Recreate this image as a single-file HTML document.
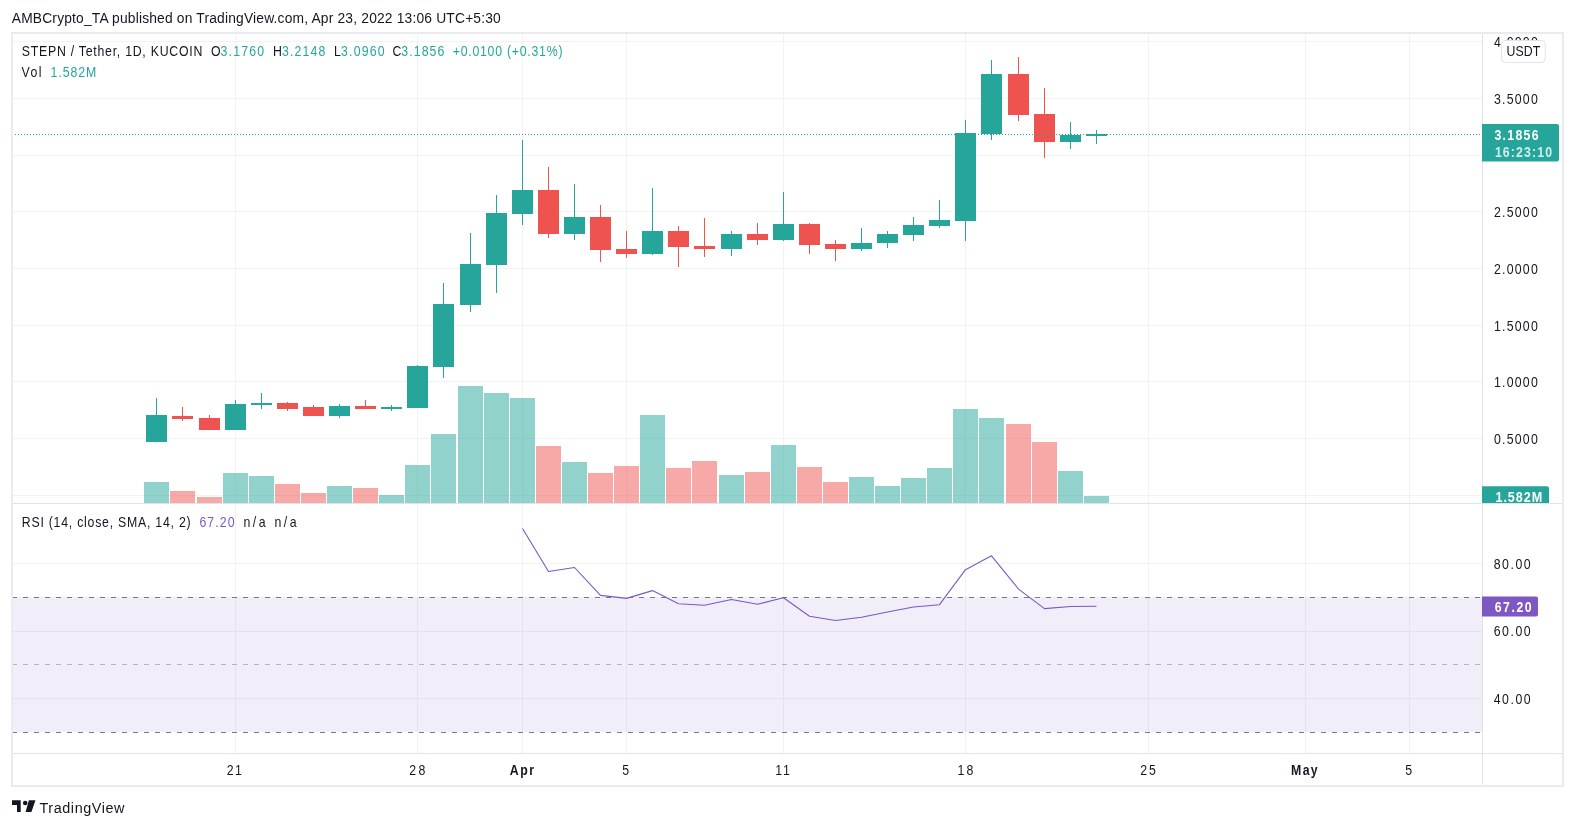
<!DOCTYPE html>
<html><head><meta charset="utf-8"><style>
html,body{margin:0;padding:0;background:#fff;width:1575px;height:828px;overflow:hidden}
</style></head><body>
<div style="will-change:transform;width:1575px;height:828px">
<svg width="1575" height="828" viewBox="0 0 1575 828" style="display:block" shape-rendering="crispEdges">
<rect x="0" y="0" width="1575" height="828" fill="#ffffff"/>
<text transform="translate(11.80,23) scale(1.0,1)" x="0" y="0" font-family="Liberation Sans, sans-serif" font-size="13.8" font-weight="400" fill="#131722" textLength="489.00" lengthAdjust="spacing" shape-rendering="auto" >AMBCrypto_TA published on TradingView.com, Apr 23, 2022 13:06 UTC+5:30</text>
<rect x="12" y="33" width="1551" height="753" fill="none" stroke="#EAEBEF" stroke-width="2"/>
<rect x="235" y="34" width="1" height="719" fill="#F1F2F2"/>
<rect x="417" y="34" width="1" height="719" fill="#F1F2F2"/>
<rect x="522" y="34" width="1" height="719" fill="#F1F2F2"/>
<rect x="626" y="34" width="1" height="719" fill="#F1F2F2"/>
<rect x="783" y="34" width="1" height="719" fill="#F1F2F2"/>
<rect x="965" y="34" width="1" height="719" fill="#F1F2F2"/>
<rect x="1148" y="34" width="1" height="719" fill="#F1F2F2"/>
<rect x="1305" y="34" width="1" height="719" fill="#F1F2F2"/>
<rect x="1409" y="34" width="1" height="719" fill="#F1F2F2"/>
<rect x="13" y="41" width="1469" height="1" fill="#F1F2F2"/>
<rect x="13" y="98" width="1469" height="1" fill="#F1F2F2"/>
<rect x="13" y="155" width="1469" height="1" fill="#F1F2F2"/>
<rect x="13" y="211" width="1469" height="1" fill="#F1F2F2"/>
<rect x="13" y="268" width="1469" height="1" fill="#F1F2F2"/>
<rect x="13" y="325" width="1469" height="1" fill="#F1F2F2"/>
<rect x="13" y="381" width="1469" height="1" fill="#F1F2F2"/>
<rect x="13" y="438" width="1469" height="1" fill="#F1F2F2"/>
<rect x="13" y="495" width="1469" height="1" fill="#F1F2F2"/>
<rect x="13" y="563" width="1469" height="1" fill="#F1F2F2"/>
<rect x="13" y="631" width="1469" height="1" fill="#F1F2F2"/>
<rect x="13" y="698" width="1469" height="1" fill="#F1F2F2"/>
<rect x="13" y="597" width="1469" height="135" fill="#7E57C2" fill-opacity="0.1"/>
<line x1="13" y1="597.5" x2="1482" y2="597.5" stroke="#787B86" stroke-width="1" stroke-dasharray="5 6" stroke-dashoffset="1"/>
<line x1="13" y1="664.5" x2="1482" y2="664.5" stroke="#B6B2C6" stroke-width="1" stroke-dasharray="5 6" stroke-dashoffset="1"/>
<line x1="13" y1="732.5" x2="1482" y2="732.5" stroke="#787B86" stroke-width="1" stroke-dasharray="5 6" stroke-dashoffset="1"/>
<rect x="144.0" y="482" width="25" height="21" fill="#26A69A" fill-opacity="0.5"/>
<rect x="170.0" y="491" width="25" height="12" fill="#EF5350" fill-opacity="0.5"/>
<rect x="197.0" y="497" width="25" height="6" fill="#EF5350" fill-opacity="0.5"/>
<rect x="223.0" y="473" width="25" height="30" fill="#26A69A" fill-opacity="0.5"/>
<rect x="249.0" y="476" width="25" height="27" fill="#26A69A" fill-opacity="0.5"/>
<rect x="275.0" y="484" width="25" height="19" fill="#EF5350" fill-opacity="0.5"/>
<rect x="301.0" y="493" width="25" height="10" fill="#EF5350" fill-opacity="0.5"/>
<rect x="327.0" y="486" width="25" height="17" fill="#26A69A" fill-opacity="0.5"/>
<rect x="353.0" y="488" width="25" height="15" fill="#EF5350" fill-opacity="0.5"/>
<rect x="379.0" y="495" width="25" height="8" fill="#26A69A" fill-opacity="0.5"/>
<rect x="405.0" y="465" width="25" height="38" fill="#26A69A" fill-opacity="0.5"/>
<rect x="431.0" y="434" width="25" height="69" fill="#26A69A" fill-opacity="0.5"/>
<rect x="458.0" y="386" width="25" height="117" fill="#26A69A" fill-opacity="0.5"/>
<rect x="484.0" y="393" width="25" height="110" fill="#26A69A" fill-opacity="0.5"/>
<rect x="510.0" y="398" width="25" height="105" fill="#26A69A" fill-opacity="0.5"/>
<rect x="536.0" y="446" width="25" height="57" fill="#EF5350" fill-opacity="0.5"/>
<rect x="562.0" y="462" width="25" height="41" fill="#26A69A" fill-opacity="0.5"/>
<rect x="588.0" y="473" width="25" height="30" fill="#EF5350" fill-opacity="0.5"/>
<rect x="614.0" y="466" width="25" height="37" fill="#EF5350" fill-opacity="0.5"/>
<rect x="640.0" y="415" width="25" height="88" fill="#26A69A" fill-opacity="0.5"/>
<rect x="666.0" y="468" width="25" height="35" fill="#EF5350" fill-opacity="0.5"/>
<rect x="692.0" y="461" width="25" height="42" fill="#EF5350" fill-opacity="0.5"/>
<rect x="719.0" y="475" width="25" height="28" fill="#26A69A" fill-opacity="0.5"/>
<rect x="745.0" y="472" width="25" height="31" fill="#EF5350" fill-opacity="0.5"/>
<rect x="771.0" y="445" width="25" height="58" fill="#26A69A" fill-opacity="0.5"/>
<rect x="797.0" y="467" width="25" height="36" fill="#EF5350" fill-opacity="0.5"/>
<rect x="823.0" y="482" width="25" height="21" fill="#EF5350" fill-opacity="0.5"/>
<rect x="849.0" y="477" width="25" height="26" fill="#26A69A" fill-opacity="0.5"/>
<rect x="875.0" y="486" width="25" height="17" fill="#26A69A" fill-opacity="0.5"/>
<rect x="901.0" y="478" width="25" height="25" fill="#26A69A" fill-opacity="0.5"/>
<rect x="927.0" y="468" width="25" height="35" fill="#26A69A" fill-opacity="0.5"/>
<rect x="953.0" y="409" width="25" height="94" fill="#26A69A" fill-opacity="0.5"/>
<rect x="979.0" y="418" width="25" height="85" fill="#26A69A" fill-opacity="0.5"/>
<rect x="1006.0" y="424" width="25" height="79" fill="#EF5350" fill-opacity="0.5"/>
<rect x="1032.0" y="442" width="25" height="61" fill="#EF5350" fill-opacity="0.5"/>
<rect x="1058.0" y="471" width="25" height="32" fill="#26A69A" fill-opacity="0.5"/>
<rect x="1084.0" y="496" width="25" height="7" fill="#26A69A" fill-opacity="0.5"/>
<rect x="156.0" y="398" width="1" height="44" fill="#26A69A"/>
<rect x="146.0" y="415" width="21" height="27" fill="#26A69A"/>
<rect x="182.0" y="407" width="1" height="14" fill="#EF5350"/>
<rect x="172.0" y="416" width="21" height="3" fill="#EF5350"/>
<rect x="209.0" y="415" width="1" height="15" fill="#EF5350"/>
<rect x="199.0" y="418" width="21" height="12" fill="#EF5350"/>
<rect x="235.0" y="400" width="1" height="30" fill="#26A69A"/>
<rect x="225.0" y="404" width="21" height="26" fill="#26A69A"/>
<rect x="261.0" y="393" width="1" height="16" fill="#26A69A"/>
<rect x="251.0" y="403" width="21" height="2" fill="#26A69A"/>
<rect x="287.0" y="402" width="1" height="9" fill="#EF5350"/>
<rect x="277.0" y="403" width="21" height="6" fill="#EF5350"/>
<rect x="313.0" y="405" width="1" height="11" fill="#EF5350"/>
<rect x="303.0" y="407" width="21" height="9" fill="#EF5350"/>
<rect x="339.0" y="404" width="1" height="14" fill="#26A69A"/>
<rect x="329.0" y="406" width="21" height="10" fill="#26A69A"/>
<rect x="365.0" y="400" width="1" height="9" fill="#EF5350"/>
<rect x="355.0" y="406" width="21" height="3" fill="#EF5350"/>
<rect x="391.0" y="405" width="1" height="6" fill="#26A69A"/>
<rect x="381.0" y="407" width="21" height="2" fill="#26A69A"/>
<rect x="417.0" y="365" width="1" height="43" fill="#26A69A"/>
<rect x="407.0" y="366" width="21" height="42" fill="#26A69A"/>
<rect x="443.0" y="283" width="1" height="95" fill="#26A69A"/>
<rect x="433.0" y="304" width="21" height="63" fill="#26A69A"/>
<rect x="470.0" y="233" width="1" height="79" fill="#26A69A"/>
<rect x="460.0" y="264" width="21" height="41" fill="#26A69A"/>
<rect x="496.0" y="195" width="1" height="98" fill="#26A69A"/>
<rect x="486.0" y="213" width="21" height="52" fill="#26A69A"/>
<rect x="522.0" y="140" width="1" height="85" fill="#26A69A"/>
<rect x="512.0" y="190" width="21" height="24" fill="#26A69A"/>
<rect x="548.0" y="167" width="1" height="71" fill="#EF5350"/>
<rect x="538.0" y="190" width="21" height="44" fill="#EF5350"/>
<rect x="574.0" y="184" width="1" height="56" fill="#26A69A"/>
<rect x="564.0" y="217" width="21" height="17" fill="#26A69A"/>
<rect x="600.0" y="205" width="1" height="57" fill="#EF5350"/>
<rect x="590.0" y="217" width="21" height="33" fill="#EF5350"/>
<rect x="626.0" y="231" width="1" height="27" fill="#EF5350"/>
<rect x="616.0" y="249" width="21" height="5" fill="#EF5350"/>
<rect x="652.0" y="188" width="1" height="67" fill="#26A69A"/>
<rect x="642.0" y="231" width="21" height="23" fill="#26A69A"/>
<rect x="678.0" y="226" width="1" height="41" fill="#EF5350"/>
<rect x="668.0" y="231" width="21" height="16" fill="#EF5350"/>
<rect x="704.0" y="218" width="1" height="39" fill="#EF5350"/>
<rect x="694.0" y="246" width="21" height="3" fill="#EF5350"/>
<rect x="731.0" y="231" width="1" height="25" fill="#26A69A"/>
<rect x="721.0" y="234" width="21" height="15" fill="#26A69A"/>
<rect x="757.0" y="223" width="1" height="22" fill="#EF5350"/>
<rect x="747.0" y="234" width="21" height="6" fill="#EF5350"/>
<rect x="783.0" y="192" width="1" height="49" fill="#26A69A"/>
<rect x="773.0" y="224" width="21" height="16" fill="#26A69A"/>
<rect x="809.0" y="223" width="1" height="31" fill="#EF5350"/>
<rect x="799.0" y="224" width="21" height="21" fill="#EF5350"/>
<rect x="835.0" y="240" width="1" height="21" fill="#EF5350"/>
<rect x="825.0" y="244" width="21" height="5" fill="#EF5350"/>
<rect x="861.0" y="228" width="1" height="23" fill="#26A69A"/>
<rect x="851.0" y="243" width="21" height="6" fill="#26A69A"/>
<rect x="887.0" y="231" width="1" height="17" fill="#26A69A"/>
<rect x="877.0" y="234" width="21" height="9" fill="#26A69A"/>
<rect x="913.0" y="217" width="1" height="24" fill="#26A69A"/>
<rect x="903.0" y="225" width="21" height="10" fill="#26A69A"/>
<rect x="939.0" y="200" width="1" height="28" fill="#26A69A"/>
<rect x="929.0" y="220" width="21" height="6" fill="#26A69A"/>
<rect x="965.0" y="120" width="1" height="121" fill="#26A69A"/>
<rect x="955.0" y="133" width="21" height="88" fill="#26A69A"/>
<rect x="991.0" y="60" width="1" height="80" fill="#26A69A"/>
<rect x="981.0" y="74" width="21" height="60" fill="#26A69A"/>
<rect x="1018.0" y="57" width="1" height="64" fill="#EF5350"/>
<rect x="1008.0" y="74" width="21" height="41" fill="#EF5350"/>
<rect x="1044.0" y="88" width="1" height="70" fill="#EF5350"/>
<rect x="1034.0" y="114" width="21" height="28" fill="#EF5350"/>
<rect x="1070.0" y="122" width="1" height="27" fill="#26A69A"/>
<rect x="1060.0" y="135" width="21" height="7" fill="#26A69A"/>
<rect x="1096.0" y="130" width="1" height="14" fill="#26A69A"/>
<rect x="1086.0" y="134" width="21" height="2" fill="#26A69A"/>
<line x1="13" y1="134.5" x2="1482" y2="134.5" stroke="#26A69A" stroke-width="1" stroke-dasharray="1 2" stroke-dashoffset="1"/>
<polyline points="522.5,528.5 548.5,571.5 574.5,567.5 600.5,595.4 626.5,598.4 652.5,590.6 678.5,603.8 704.5,605.3 731.5,599.5 757.5,604.3 783.5,597.8 809.5,616.3 835.5,620.5 861.5,617.3 887.5,612 913.5,607 939.5,604.7 965.5,569.7 991.5,555.8 1018.5,589.1 1044.5,608.6 1070.5,606.5 1096.5,606.3" fill="none" stroke="#7E57C2" stroke-width="1.1" shape-rendering="auto" stroke-linejoin="round"/>
<rect x="13" y="503" width="1549" height="1" fill="#E0E3EB"/>
<rect x="13" y="753" width="1549" height="1" fill="#E0E3EB"/>
<rect x="1482" y="34" width="1" height="751" fill="#E0E3EB"/>
<text transform="translate(21.80,56.2) scale(0.88,1)" x="0" y="0" font-family="Liberation Sans, sans-serif" font-size="14" font-weight="400" fill="#131722" textLength="205.11" lengthAdjust="spacing" shape-rendering="auto" >STEPN / Tether, 1D, KUCOIN</text>
<text transform="translate(210.90,56.2) scale(0.88,1)" x="0" y="0" font-family="Liberation Sans, sans-serif" font-size="14" font-weight="400" fill="#131722" textLength="10.80" lengthAdjust="spacing" shape-rendering="auto" >O</text>
<text transform="translate(220.40,56.2) scale(0.88,1)" x="0" y="0" font-family="Liberation Sans, sans-serif" font-size="14" font-weight="400" fill="#26A69A" textLength="49.77" lengthAdjust="spacing" shape-rendering="auto" >3.1760</text>
<text transform="translate(272.90,56.2) scale(0.88,1)" x="0" y="0" font-family="Liberation Sans, sans-serif" font-size="14" font-weight="400" fill="#131722" textLength="10.23" lengthAdjust="spacing" shape-rendering="auto" >H</text>
<text transform="translate(282.00,56.2) scale(0.88,1)" x="0" y="0" font-family="Liberation Sans, sans-serif" font-size="14" font-weight="400" fill="#26A69A" textLength="49.32" lengthAdjust="spacing" shape-rendering="auto" >3.2148</text>
<text transform="translate(334.10,56.2) scale(0.88,1)" x="0" y="0" font-family="Liberation Sans, sans-serif" font-size="14" font-weight="400" fill="#131722" textLength="8.52" lengthAdjust="spacing" shape-rendering="auto" >L</text>
<text transform="translate(341.10,56.2) scale(0.88,1)" x="0" y="0" font-family="Liberation Sans, sans-serif" font-size="14" font-weight="400" fill="#26A69A" textLength="49.43" lengthAdjust="spacing" shape-rendering="auto" >3.0960</text>
<text transform="translate(392.40,56.2) scale(0.88,1)" x="0" y="0" font-family="Liberation Sans, sans-serif" font-size="14" font-weight="400" fill="#131722" textLength="9.89" lengthAdjust="spacing" shape-rendering="auto" >C</text>
<text transform="translate(401.30,56.2) scale(0.88,1)" x="0" y="0" font-family="Liberation Sans, sans-serif" font-size="14" font-weight="400" fill="#26A69A" textLength="48.98" lengthAdjust="spacing" shape-rendering="auto" >3.1856</text>
<text transform="translate(452.70,56.2) scale(0.88,1)" x="0" y="0" font-family="Liberation Sans, sans-serif" font-size="14" font-weight="400" fill="#26A69A" textLength="124.77" lengthAdjust="spacing" shape-rendering="auto" >+0.0100 (+0.31%)</text>
<text transform="translate(21.40,76.7) scale(0.88,1)" x="0" y="0" font-family="Liberation Sans, sans-serif" font-size="14" font-weight="400" fill="#131722" textLength="22.95" lengthAdjust="spacing" shape-rendering="auto" >Vol</text>
<text transform="translate(50.60,76.7) scale(0.88,1)" x="0" y="0" font-family="Liberation Sans, sans-serif" font-size="14" font-weight="400" fill="#26A69A" textLength="51.82" lengthAdjust="spacing" shape-rendering="auto" >1.582M</text>
<text transform="translate(21.80,527.1) scale(0.88,1)" x="0" y="0" font-family="Liberation Sans, sans-serif" font-size="14" font-weight="400" fill="#131722" textLength="191.82" lengthAdjust="spacing" shape-rendering="auto" >RSI (14, close, SMA, 14, 2)</text>
<text transform="translate(199.40,527.1) scale(0.88,1)" x="0" y="0" font-family="Liberation Sans, sans-serif" font-size="14" font-weight="400" fill="#7E57C2" textLength="40.00" lengthAdjust="spacing" shape-rendering="auto" >67.20</text>
<text transform="translate(243.40,527.1) scale(0.88,1)" x="0" y="0" font-family="Liberation Sans, sans-serif" font-size="14" font-weight="400" fill="#131722" textLength="25.23" lengthAdjust="spacing" shape-rendering="auto" >n/a</text>
<text transform="translate(274.40,527.1) scale(0.88,1)" x="0" y="0" font-family="Liberation Sans, sans-serif" font-size="14" font-weight="400" fill="#131722" textLength="25.23" lengthAdjust="spacing" shape-rendering="auto" >n/a</text>
<text transform="translate(1493.90,47) scale(0.88,1)" x="0" y="0" font-family="Liberation Sans, sans-serif" font-size="14" font-weight="400" fill="#131722" textLength="49.89" lengthAdjust="spacing" shape-rendering="auto" >4.0000</text>
<text transform="translate(1493.90,104) scale(0.88,1)" x="0" y="0" font-family="Liberation Sans, sans-serif" font-size="14" font-weight="400" fill="#131722" textLength="49.89" lengthAdjust="spacing" shape-rendering="auto" >3.5000</text>
<text transform="translate(1493.90,217) scale(0.88,1)" x="0" y="0" font-family="Liberation Sans, sans-serif" font-size="14" font-weight="400" fill="#131722" textLength="49.89" lengthAdjust="spacing" shape-rendering="auto" >2.5000</text>
<text transform="translate(1493.90,273.5) scale(0.88,1)" x="0" y="0" font-family="Liberation Sans, sans-serif" font-size="14" font-weight="400" fill="#131722" textLength="49.89" lengthAdjust="spacing" shape-rendering="auto" >2.0000</text>
<text transform="translate(1493.90,330.5) scale(0.88,1)" x="0" y="0" font-family="Liberation Sans, sans-serif" font-size="14" font-weight="400" fill="#131722" textLength="49.89" lengthAdjust="spacing" shape-rendering="auto" >1.5000</text>
<text transform="translate(1493.90,387) scale(0.88,1)" x="0" y="0" font-family="Liberation Sans, sans-serif" font-size="14" font-weight="400" fill="#131722" textLength="49.89" lengthAdjust="spacing" shape-rendering="auto" >1.0000</text>
<text transform="translate(1493.90,443.5) scale(0.88,1)" x="0" y="0" font-family="Liberation Sans, sans-serif" font-size="14" font-weight="400" fill="#131722" textLength="49.89" lengthAdjust="spacing" shape-rendering="auto" >0.5000</text>
<rect x="1501.5" y="40.5" width="43.8" height="22" rx="4" ry="4" fill="#ffffff" stroke="#E0E3EB" stroke-width="1" shape-rendering="auto"/>
<text transform="translate(1506.40,56) scale(0.88,1)" x="0" y="0" font-family="Liberation Sans, sans-serif" font-size="14" font-weight="400" fill="#131722" textLength="38.52" lengthAdjust="spacing" shape-rendering="auto" >USDT</text>
<path d="M1482 124 H1557 Q1559 124 1559 126 V159.5 Q1559 161.5 1557 161.5 H1482 Z" fill="#26A69A" shape-rendering="auto"/>
<text transform="translate(1494.40,140) scale(0.88,1)" x="0" y="0" font-family="Liberation Sans, sans-serif" font-size="14" font-weight="700" fill="#ffffff" textLength="50.23" lengthAdjust="spacing" shape-rendering="auto" >3.1856</text>
<text transform="translate(1494.90,157) scale(0.88,1)" x="0" y="0" font-family="Liberation Sans, sans-serif" font-size="14" font-weight="700" fill="#D0ECE9" textLength="65.00" lengthAdjust="spacing" shape-rendering="auto" >16:23:10</text>
<svg x="1482" y="486" width="67" height="17"><path d="M0 0.2 H65 Q67 0.2 67 2.2 V20 H0 Z" fill="#26A69A" shape-rendering="auto"/>
<text transform="translate(13.40,15.8) scale(0.9,1)" x="0" y="0" font-family="Liberation Sans, sans-serif" font-size="14" font-weight="700" fill="#ffffff" textLength="52.11" lengthAdjust="spacing" shape-rendering="auto" >1.582M</text>
</svg>
<text transform="translate(1493.70,568.9) scale(0.88,1)" x="0" y="0" font-family="Liberation Sans, sans-serif" font-size="14" font-weight="400" fill="#131722" textLength="41.93" lengthAdjust="spacing" shape-rendering="auto" >80.00</text>
<text transform="translate(1493.70,635.6) scale(0.88,1)" x="0" y="0" font-family="Liberation Sans, sans-serif" font-size="14" font-weight="400" fill="#131722" textLength="41.93" lengthAdjust="spacing" shape-rendering="auto" >60.00</text>
<text transform="translate(1493.70,703.8) scale(0.88,1)" x="0" y="0" font-family="Liberation Sans, sans-serif" font-size="14" font-weight="400" fill="#131722" textLength="41.93" lengthAdjust="spacing" shape-rendering="auto" >40.00</text>
<path d="M1482 596.5 H1536 Q1538 596.5 1538 598.5 V614.5 Q1538 616.5 1536 616.5 H1482 Z" fill="#7E57C2" shape-rendering="auto"/>
<text transform="translate(1494.70,612) scale(0.88,1)" x="0" y="0" font-family="Liberation Sans, sans-serif" font-size="14" font-weight="700" fill="#ffffff" textLength="41.93" lengthAdjust="spacing" shape-rendering="auto" >67.20</text>
<text transform="translate(226.85,775.3) scale(0.88,1)" x="0" y="0" font-family="Liberation Sans, sans-serif" font-size="14" font-weight="400" fill="#131722" textLength="16.93" lengthAdjust="spacing" shape-rendering="auto" >21</text>
<text transform="translate(409.15,775.3) scale(0.88,1)" x="0" y="0" font-family="Liberation Sans, sans-serif" font-size="14" font-weight="400" fill="#131722" textLength="18.30" lengthAdjust="spacing" shape-rendering="auto" >28</text>
<text transform="translate(509.85,775.3) scale(0.88,1)" x="0" y="0" font-family="Liberation Sans, sans-serif" font-size="14" font-weight="700" fill="#131722" textLength="27.39" lengthAdjust="spacing" shape-rendering="auto" >Apr</text>
<text transform="translate(622.30,775.3) scale(0.88,1)" x="0" y="0" font-family="Liberation Sans, sans-serif" font-size="14" font-weight="400" fill="#131722" textLength="9.09" lengthAdjust="spacing" shape-rendering="auto" >5</text>
<text transform="translate(775.15,775.3) scale(0.88,1)" x="0" y="0" font-family="Liberation Sans, sans-serif" font-size="14" font-weight="400" fill="#131722" textLength="16.70" lengthAdjust="spacing" shape-rendering="auto" >11</text>
<text transform="translate(957.55,775.3) scale(0.88,1)" x="0" y="0" font-family="Liberation Sans, sans-serif" font-size="14" font-weight="400" fill="#131722" textLength="18.07" lengthAdjust="spacing" shape-rendering="auto" >18</text>
<text transform="translate(1140.15,775.3) scale(0.88,1)" x="0" y="0" font-family="Liberation Sans, sans-serif" font-size="14" font-weight="400" fill="#131722" textLength="17.84" lengthAdjust="spacing" shape-rendering="auto" >25</text>
<text transform="translate(1291.10,775.3) scale(0.88,1)" x="0" y="0" font-family="Liberation Sans, sans-serif" font-size="14" font-weight="700" fill="#131722" textLength="30.23" lengthAdjust="spacing" shape-rendering="auto" >May</text>
<text transform="translate(1405.20,775.3) scale(0.88,1)" x="0" y="0" font-family="Liberation Sans, sans-serif" font-size="14" font-weight="400" fill="#131722" textLength="8.64" lengthAdjust="spacing" shape-rendering="auto" >5</text>
<g fill="#131722" shape-rendering="auto"><path d="M12 800.3 H20.7 V812.1 H17 V804.9 H12 Z"/><circle cx="25.2" cy="803" r="2.3"/><path d="M28.9 800.3 H35.5 L31.4 812.1 H25.6 Z"/></g>
<text transform="translate(39.50,812.7) scale(0.93,1)" x="0" y="0" font-family="Liberation Sans, sans-serif" font-size="15.5" font-weight="400" fill="#131722" textLength="91.40" lengthAdjust="spacing" shape-rendering="auto" >TradingView</text>
</svg>
</div>
</body></html>
